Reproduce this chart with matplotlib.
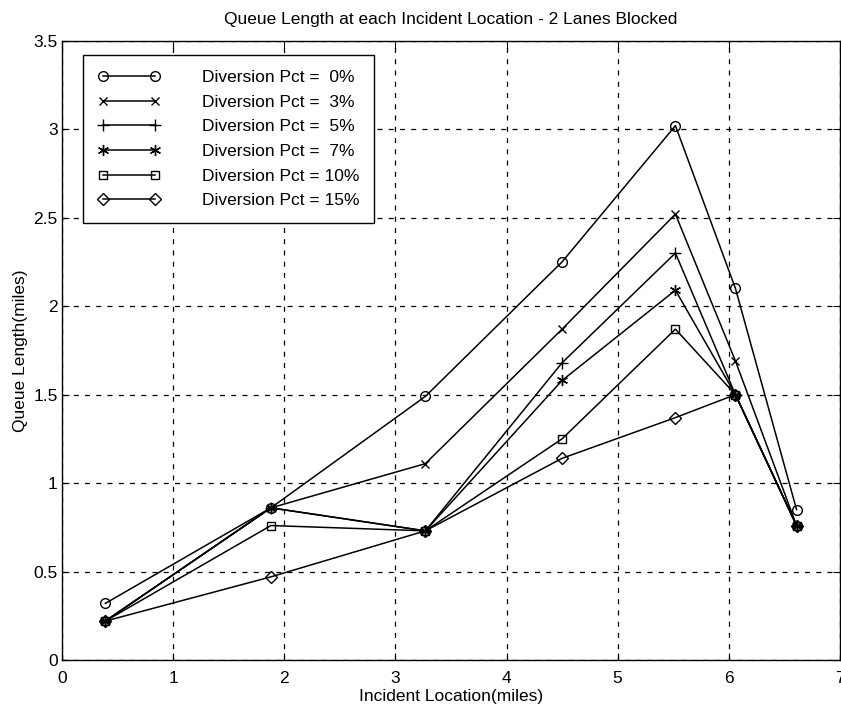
import numpy as np
from matplotlib import pyplot as plt

plt.rcParams['font.family'] = ['Liberation Sans', 'DejaVu Sans']

location = [0.39, 1.88, 3.27, 4.50, 5.52, 6.06, 6.61]
pct_labels = ['Diversion Pct =  0%', 'Diversion Pct =  3%', 'Diversion Pct =  5%',
              'Diversion Pct =  7%', 'Diversion Pct = 10%', 'Diversion Pct = 15%']
q_0 = [0.32, 0.86, 1.49, 2.25, 3.02, 2.10, 0.85]
q_3 = [0.22, 0.86, 1.11, 1.87, 2.52, 1.69, 0.76]
q_5 = [0.22, 0.86, 0.73, 1.68, 2.30, 1.50, 0.76]
q_7 = [0.22, 0.86, 0.73, 1.58, 2.09, 1.50, 0.76]
q_10 = [0.22, 0.76, 0.73, 1.25, 1.87, 1.50, 0.76]
q_15 = [0.22, 0.47, 0.73, 1.14, 1.37, 1.50, 0.76]

series = [q_0, q_3, q_5, q_7, q_10, q_15]
markers = ['o', 'x', '+', (6, 2, 0), 's', 'D']
sizes = [7, 6, 8, 8, 5.5, 6]

fig = plt.figure(figsize=(8.41, 7.11), dpi=100)
ax = fig.add_axes([0.0737, 0.0717, 0.925, 0.871])

for q, m, s, lab in zip(series, markers, sizes, pct_labels):
    ax.plot(location, q, color='k', lw=1.1, marker=m, markersize=s,
            markerfacecolor='none', markeredgecolor='k', markeredgewidth=1.0,
            label=lab)

ax.set_xlim(0, 7)
ax.set_ylim(0, 3.5)
ax.set_xticks(np.arange(0, 8, 1))
ax.set_yticks(np.arange(0, 3.6, 0.5))
ax.set_yticklabels(['0', '0.5', '1', '1.5', '2', '2.5', '3', '3.5'])
ax.grid(True, color='k', linestyle=(0, (4, 5)), linewidth=0.9)
ax.tick_params(direction='in', length=5, labelsize=12.5, colors='k', top=True, right=True)
ax.tick_params(axis='x', pad=8)
ax.tick_params(axis='y', pad=3)
for sp in ax.spines.values():
    sp.set_linewidth(1.0)

ax.set_xlabel('Incident Location(miles)', fontsize=12.5, labelpad=2)
ax.set_ylabel('Queue Length(miles)', fontsize=12.5, labelpad=4)
ax.set_title('Queue Length at each Incident Location - 2 Lanes Blocked', fontsize=12.5, pad=12)

leg = ax.legend(loc='upper left', bbox_to_anchor=(0.027, 0.977), numpoints=2,
                handlelength=3.6, handletextpad=2.4, fontsize=12.5, fancybox=False,
                framealpha=1, edgecolor='k', borderaxespad=0, labelspacing=0.55,
                borderpad=0.85)
leg.get_frame().set_linewidth(1.0)

plt.savefig('out.png', dpi=100)
